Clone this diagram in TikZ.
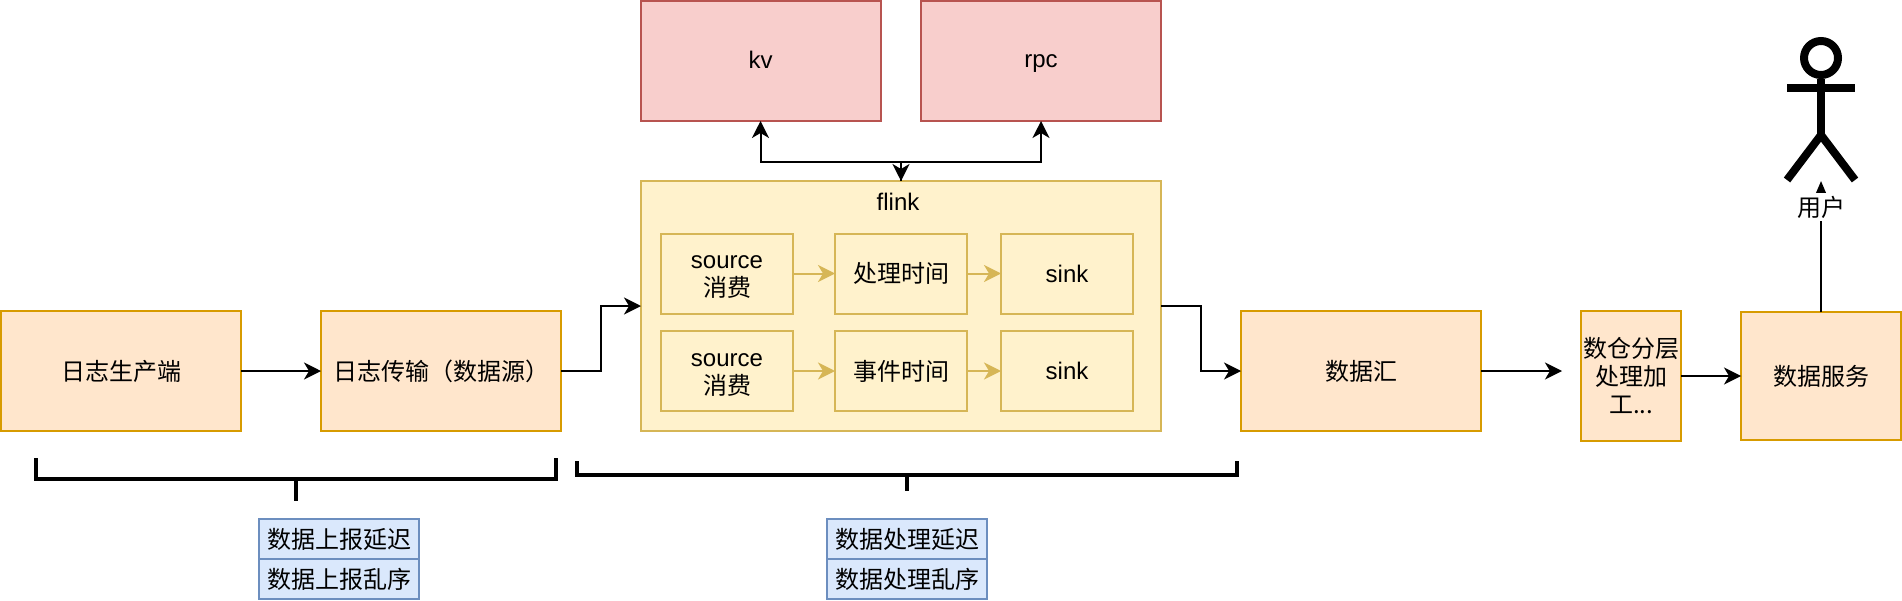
\documentclass[tikz,border=0pt]{standalone}
\usepackage{fontspec}
\setmainfont{Liberation Sans}
\newfontfamily\cjk{Noto Sans CJK SC}
\usetikzlibrary{arrows.meta,positioning}
\definecolor{orfill}{HTML}{FFE6CC}\definecolor{ordraw}{HTML}{D79B00}
\definecolor{yefill}{HTML}{FFF2CC}\definecolor{yedraw}{HTML}{D6B656}
\definecolor{refill}{HTML}{F8CECC}\definecolor{redraw}{HTML}{B85450}
\definecolor{blfill}{HTML}{DAE8FC}\definecolor{bldraw}{HTML}{6C8EBF}
\newcommand{\latinstrut}{\rule[-4pt]{0pt}{22pt}}
\newcommand{\sourcestrut}{\rule{0pt}{20pt}}
\tikzset{
  x=1pt,y=-1pt,
  base/.style={line width=2pt,inner sep=0pt,outer sep=0pt,align=center,font=\fontsize{24}{28}\selectfont,text=black},
  orbox/.style={base,draw=ordraw,fill=orfill,minimum width=240pt,minimum height=120pt},
  redbox/.style={base,draw=redraw,fill=refill,minimum width=240pt,minimum height=120pt},
  inner/.style={base,draw=yedraw,fill=yefill,minimum width=132pt,minimum height=80pt},
  bluebox/.style={base,draw=bldraw,fill=blfill,font=\fontsize{24}{28}\selectfont\cjk},
  link/.style={line width=2pt,draw=black,-{Stealth[length=17pt,width=17pt,inset=5pt]}},
  glink/.style={line width=2pt,draw=yedraw,-{Stealth[length=17pt,width=17pt,inset=5pt]}},
  bracket/.style={line width=4pt,draw=black,line cap=butt,line join=miter},
  stick/.style={line width=8pt,draw=black,line cap=butt}
}
\begin{document}
\begin{tikzpicture}
\useasboundingbox (0,0) rectangle (1902,600);
% main row
\node[orbox] (prod) at (121,371) {\cjk 日志生产端};
\node[orbox] (trans) at (441,371) {\cjk 日志传输（数据源）};
\node[orbox] (sinkdata) at (1361,371) {\cjk 数据汇};
\node[orbox,minimum width=100pt,minimum height=130pt] (dw) at (1631,376) {\cjk 数仓分层\\\cjk 处理加\\\cjk 工...};
\node[orbox,minimum width=160pt,minimum height=128pt] (serv) at (1821,376) {\cjk 数据服务};
% external
\node[redbox] (kv) at (760.5,61) {\latinstrut kv};
\node[redbox] (rpc) at (1041,61) {\latinstrut rpc};
% flink
\node[base,draw=yedraw,fill=yefill,minimum width=520pt,minimum height=250pt] (flink) at (901,306) {};
\node[base,anchor=center] (flinklabel) at (898,202) {flink};
\node[inner] (s1) at (727,273.5) {\sourcestrut source\\\cjk 消费};
\node[inner] (t1) at (901,273.5) {\cjk 处理时间};
\node[inner] (k1) at (1067,273.5) {sink};
\node[inner] (s2) at (727,371) {\sourcestrut source\\\cjk 消费};
\node[inner] (t2) at (901,371) {\cjk 事件时间};
\node[inner] (k2) at (1067,371) {sink};
\draw[glink] (s1) -- (t1);
\draw[glink] (t1) -- (k1);
\draw[glink] (s2) -- (t2);
\draw[glink] (t2) -- (k2);
% connectors
\draw[link] (prod) -- (trans);
\draw[link] (trans.east) -- (601,371) -- (601,306) -- (flink.west);
\draw[link] (1161,306) -- (1201,306) -- (1201,371) -- (sinkdata.west);
\coordinate (free) at (1562,371);
\draw[link] (sinkdata.east) -- (free);
\draw[link] (dw.east) -- (serv.west);
\draw[link] (flink.north) -- (901,162) -- (760.5,162) -- (kv.south);
\draw[link] (901,162) -- (1041,162) -- (rpc.south);
\draw[link] (901,162) -- (flink.north);
% actor
\coordinate (head) at (1821,58);
\coordinate (neck) at (1821,79);
\coordinate (hip) at (1821,135);
\coordinate (armL) at (1787,88);
\coordinate (armR) at (1855,88);
\coordinate (legL) at (1787,180);
\coordinate (legR) at (1855,180);
\coordinate (actorfoot) at (1821,181);
\draw[stick] (head) circle (17);
\draw[stick] (neck) -- (hip);
\draw[stick] (armL) -- (armR);
\draw[stick] (legL) -- (hip) -- (legR);
\draw[line width=2pt,-{Stealth[length=16pt,width=13pt,inset=0pt]}] (serv.north) -- (actorfoot)
  node[pos=0.8,fill=white,inner sep=0pt,minimum height=28pt,font=\fontsize{24}{28}\selectfont\cjk] (userlabel) at (1820,207) {用户};
% brackets
\coordinate (bAl) at (36,458);\coordinate (bAm) at (36,479);\coordinate (bAr) at (556,458);\coordinate (bAb) at (556,479);
\coordinate (bAc) at (296,479);\coordinate (bAs) at (296,501);
\draw[bracket] (bAl) -- (bAm) -- (bAb) -- (bAr);
\draw[bracket] (bAc) -- (bAs);
\coordinate (bBl) at (577,461);\coordinate (bBm) at (577,475);\coordinate (bBr) at (1237,461);\coordinate (bBb) at (1237,475);
\coordinate (bBc) at (907,475);\coordinate (bBs) at (907,491);
\draw[bracket] (bBl) -- (bBm) -- (bBb) -- (bBr);
\draw[bracket] (bBc) -- (bBs);
% blue labels
\node[bluebox,minimum width=160pt,minimum height=40pt] (a1) at (339,539) {数据上报延迟};
\node[bluebox,minimum width=160pt,minimum height=40pt] (a2) at (339,579) {数据上报乱序};
\node[bluebox,minimum width=160pt,minimum height=40pt] (b1) at (907,539) {数据处理延迟};
\node[bluebox,minimum width=160pt,minimum height=40pt] (b2) at (907,579) {数据处理乱序};
\end{tikzpicture}
\end{document}
